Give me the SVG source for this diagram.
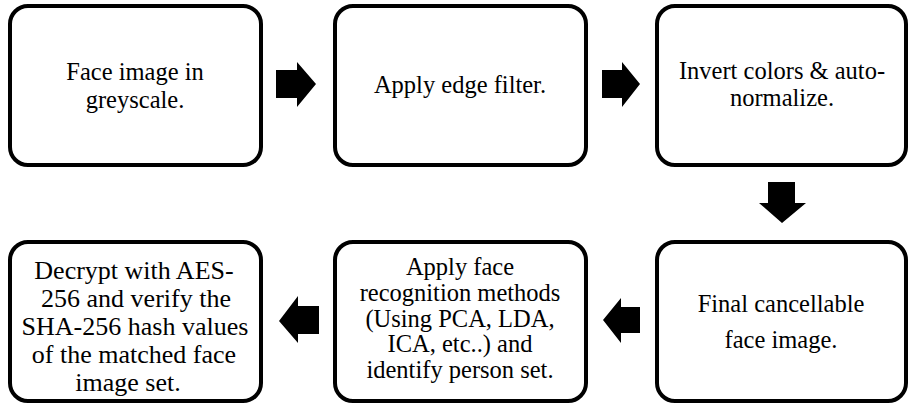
<svg xmlns="http://www.w3.org/2000/svg" width="914" height="410" viewBox="0 0 914 410">
<style>
.box{fill:#fff;stroke:#000;stroke-width:4}
.t{font-family:"Liberation Serif","Times New Roman",serif;font-size:24.5px;fill:#000;text-anchor:middle}
.t4{font-size:26px}
.arr{fill:#000;stroke:none}
</style>
<rect width="914" height="410" fill="#fff"/>
<g id="n1"><rect class="box" x="10" y="6" width="251" height="159" rx="18"/>
<text class="t" x="135" y="80">Face image in</text><text class="t" x="135" y="108">greyscale.</text></g>
<g id="n2"><rect class="box" x="335" y="6" width="251" height="159" rx="18"/>
<text class="t" x="460" y="93">Apply edge filter.</text></g>
<g id="n3"><rect class="box" x="657" y="6" width="249" height="159" rx="18"/>
<text class="t" x="782" y="79">Invert colors &amp; auto-</text><text class="t" x="782" y="106">normalize.</text></g>
<g id="n6"><rect class="box" x="657" y="242" width="249" height="159" rx="18"/>
<text class="t" x="781" y="312">Final cancellable</text><text class="t" x="781" y="348">face image.</text></g>
<g id="n5"><rect class="box" x="335" y="242" width="251" height="159" rx="18"/>
<text class="t" x="460" y="275">Apply face</text>
<text class="t" x="460" y="301">recognition methods</text>
<text class="t" x="460" y="327">(Using PCA, LDA,</text>
<text class="t" x="460" y="352">ICA, etc..) and</text>
<text class="t" x="460" y="378">identify person set.</text></g>
<g id="n4"><rect class="box" x="10" y="242" width="251" height="159" rx="18"/>
<text class="t t4" x="134" y="279">Decrypt with AES-</text>
<text class="t t4" x="136" y="307">256 and verify the</text>
<text class="t t4" x="135" y="335">SHA-256 hash values</text>
<text class="t t4" x="134" y="363">of the matched face</text>
<text class="t t4" x="128" y="391">image set.</text></g>
<g id="connectors">
<polygon class="arr" points="276,70 297,70 297,62 316,84 297,107 297,98 276,98"/>
<polygon class="arr" points="602,70 622,70 622,62 640,84 622,107 622,98 602,98"/>
<polygon class="arr" points="768,182 795,182 795,203 806,203 782,223 759,203 768,203"/>
<polygon class="arr" points="640,307 621,307 621,298 603,320 621,343 621,333 640,333"/>
<polygon class="arr" points="319,306 298,306 298,296 279,321 298,343 298,334 319,334"/>
</g>
</svg>
